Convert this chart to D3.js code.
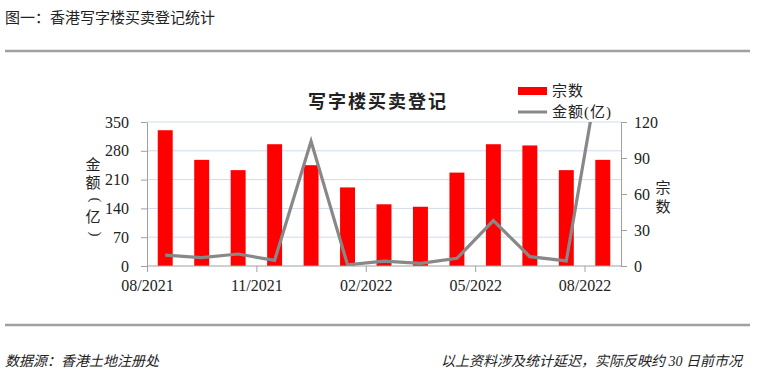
<!DOCTYPE html>
<html>
<head>
<meta charset="utf-8">
<script src="https://cdn.jsdelivr.net/npm/d3@7"></script>
<style>
  body { margin: 0; background: #fff; }
  svg text { font-family: "Liberation Serif", "Noto Sans CJK SC", serif; fill: #222; }
</style>
</head>
<body>
<div id="chart"></div>
<script>
const months = ["08/2021", "09/2021", "10/2021", "11/2021", "12/2021", "01/2022", "02/2022",
    "03/2022", "04/2022", "05/2022", "06/2022", "07/2022", "08/2022"];
const deals = [330, 258, 233, 296, 245, 191, 150, 144, 227, 296, 293, 233, 258];
const amount = [9, 7, 10, 4.7, 104, 1, 4, 2.2, 6.4, 37.8, 7.8, 4.2, 180];
const leftTicks = [0, 70, 140, 210, 280, 350];
const rightTicks = [0, 30, 60, 90, 120];
const xTickLabels = ["08/2021", "11/2021", "02/2022", "05/2022", "08/2022"];

const W = 763, H = 377;
const margin = { top: 122, right: 142, bottom: 111, left: 147 },
    width = W - margin.left - margin.right,
    height = H - margin.top - margin.bottom;

const serif = '"Liberation Serif", "Noto Sans CJK SC", serif';

const svg = d3.select("#chart")
    .append("svg")
    .attr("width", W)
    .attr("height", H);

// header and separators
svg.append("text")
    .attr("x", 5).attr("y", 23)
    .style("font-size", "15px")
    .text("图一：香港写字楼买卖登记统计");

svg.append("line")
    .attr("x1", 5).attr("x2", 750).attr("y1", 51).attr("y2", 51)
    .attr("stroke", "#a0a0a0").attr("stroke-width", 2.5);

svg.append("line")
    .attr("x1", 5).attr("x2", 750).attr("y1", 325).attr("y2", 325)
    .attr("stroke", "#a0a0a0").attr("stroke-width", 2.5);

svg.append("text")
    .attr("x", 5).attr("y", 366)
    .style("font-size", "14px")
    .style("font-style", "italic")
    .text("数据源：香港土地注册处");

svg.append("text")
    .attr("x", 742).attr("y", 366)
    .attr("text-anchor", "end")
    .style("font-size", "14px")
    .style("font-style", "italic")
    .text("以上资料涉及统计延迟，实际反映约 30 日前市况");

const g = svg.append("g")
    .attr("transform", `translate(${margin.left}, ${margin.top})`);

const x = d3.scaleBand()
    .domain(months)
    .range([0, width])
    .paddingInner(0.59)
    .paddingOuter(0.295);

const band = d3.scaleBand().domain(months).range([0, width]);

const yL = d3.scaleLinear().domain([0, 350]).range([height, 0]);
const yR = d3.scaleLinear().domain([0, 120]).range([height, 0]);

// gridlines
g.append("g")
    .selectAll("line")
    .data(leftTicks.slice(1))
    .enter()
    .append("line")
    .attr("x1", 0).attr("x2", width)
    .attr("y1", d => yL(d)).attr("y2", d => yL(d))
    .attr("stroke", "#cfdcec");

// bars
g.selectAll(".bar")
    .data(deals)
    .enter()
    .append("rect")
    .attr("x", (d, i) => x(months[i]))
    .attr("y", d => yL(d))
    .attr("width", x.bandwidth())
    .attr("height", d => height - yL(d))
    .attr("fill", "#ff0000");

// line, clipped at plot area
svg.append("clipPath")
    .attr("id", "plotclip")
    .append("rect")
    .attr("x", 0).attr("y", 0).attr("width", width).attr("height", height);

const line = d3.line()
    .x((d, i) => band(months[i]) + band.bandwidth() / 2)
    .y(d => yR(d));

g.append("path")
    .datum(amount)
    .attr("clip-path", "url(#plotclip)")
    .attr("fill", "none")
    .attr("stroke", "#888888")
    .attr("stroke-width", 3.2)
    .attr("d", line);

function styleAxis(ax) {
    ax.attr("font-family", null);
    ax.select(".domain").attr("stroke", "#a0a0a0");
    ax.selectAll(".tick line").attr("stroke", "#a0a0a0");
    ax.selectAll("text")
        .style("font-family", serif)
        .style("font-size", "16px")
        .attr("fill", "#222");
}

// left axis
const axL = g.append("g")
    .call(d3.axisLeft(yL).tickValues(leftTicks).tickSize(6).tickSizeOuter(0).tickPadding(12));
styleAxis(axL);

// right axis
const axR = g.append("g")
    .attr("transform", `translate(${width}, 0)`)
    .call(d3.axisRight(yR).tickValues(rightTicks).tickSize(6).tickSizeOuter(0).tickPadding(7));
styleAxis(axR);

// bottom axis: ticks at quarter boundaries
const xPos = d3.scalePoint().domain(xTickLabels).range([0, band.step() * 12]);
const axB = g.append("g")
    .attr("transform", `translate(0, ${height})`)
    .call(d3.axisBottom(xPos).tickSize(6).tickSizeOuter(0).tickPadding(8));
styleAxis(axB);
axB.select(".domain").attr("d", `M0,0H${width}`);

// axis titles, stacked vertically (parentheses turned sideways)
const leftTitle = ["金", "额", "(", "亿", ")"];
const leftTitleY = [165, 183, 200, 217, 234];
svg.append("g")
    .selectAll("text")
    .data(leftTitle)
    .enter()
    .append("text")
    .attr("transform", (d, i) => (d === "(" || d === ")")
        ? `translate(96, ${leftTitleY[i]}) rotate(90)`
        : `translate(93, ${leftTitleY[i]})`)
    .attr("text-anchor", "middle")
    .attr("dominant-baseline", "central")
    .style("font-size", "15px")
    .text(d => d);

svg.append("g")
    .selectAll("text")
    .data(["宗", "数"])
    .enter()
    .append("text")
    .attr("x", 663)
    .attr("y", (d, i) => 188 + i * 19)
    .attr("text-anchor", "middle")
    .attr("dominant-baseline", "central")
    .style("font-size", "15px")
    .text(d => d);

// chart title
svg.append("text")
    .attr("x", 378).attr("y", 108)
    .attr("text-anchor", "middle")
    .style("font-size", "18px")
    .style("font-weight", "700")
    .style("letter-spacing", "2px")
    .text("写字楼买卖登记");

// legend
const legend = svg.append("g");
legend.append("rect")
    .attr("x", 518).attr("y", 87).attr("width", 29).attr("height", 8)
    .attr("fill", "#ff0000");
legend.append("text")
    .attr("x", 552).attr("y", 96)
    .style("font-size", "15px")
    .style("letter-spacing", "1px")
    .text("宗数");
legend.append("line")
    .attr("x1", 518).attr("x2", 547).attr("y1", 112).attr("y2", 112)
    .attr("stroke", "#888888").attr("stroke-width", 3);
legend.append("text")
    .attr("x", 552).attr("y", 117)
    .style("font-size", "15px")
    .style("letter-spacing", "1px")
    .text("金额(亿)");
</script>
</body>
</html>
